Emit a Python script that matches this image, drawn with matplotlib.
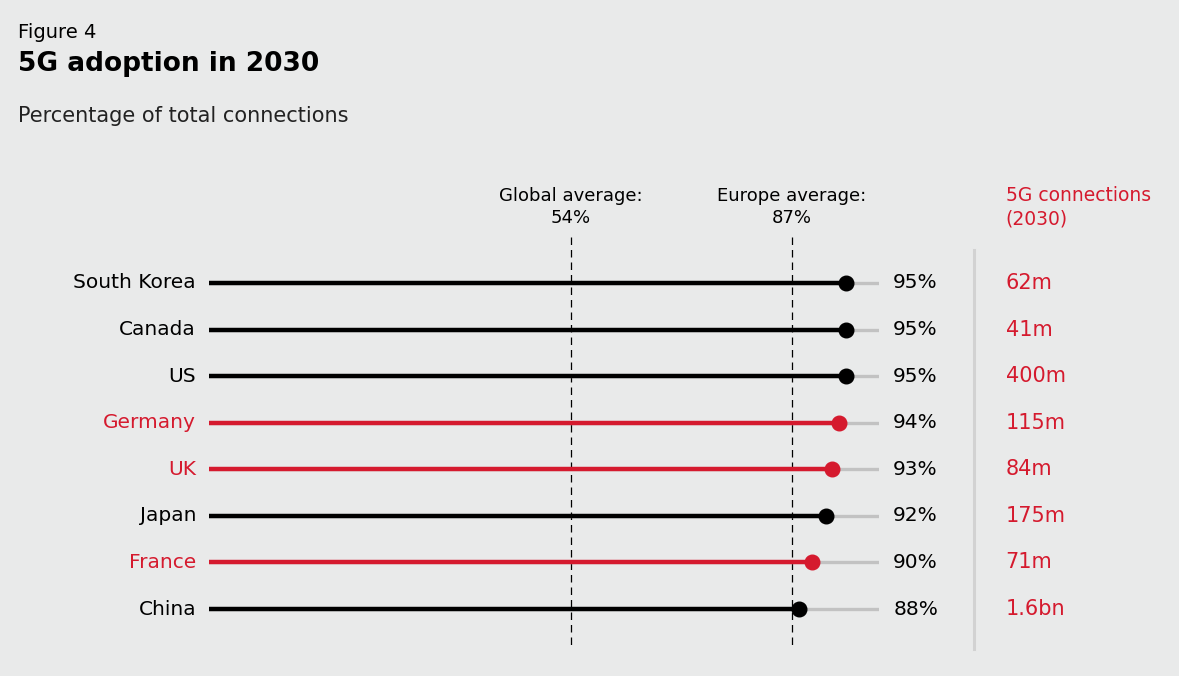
import matplotlib.pyplot as plt

countries = ['South Korea', 'Canada', 'US', 'Germany', 'UK', 'Japan', 'France', 'China']
adoption = [95, 95, 95, 94, 93, 92, 90, 88]
connections = ['62m', '41m', '400m', '115m', '84m', '175m', '71m', '1.6bn']
europe = [False, False, False, True, True, False, True, False]
global_avg = 54
europe_avg = 87

bg = '#e9eaea'
red = '#d51a2e'
grey = '#c2c2c2'

plt.rcParams['font.family'] = ['DejaVu Sans']

fig = plt.figure(figsize=(11.79, 6.76), dpi=100, facecolor=bg)
# axes placed so that 0..100 % spans the track
ax = fig.add_axes([209.4 / 1179, 1 - 650 / 676, 669.7 / 1179, 470 / 676])
ax.set_facecolor(bg)
ax.set_xlim(0, 100)
ax.set_ylim(7.88, -2.21)
ax.axis('off')

# reference lines
for val, label in [(global_avg, 'Global average:'), (europe_avg, 'Europe average:')]:
    ax.plot([val, val], [-0.99, 7.88], color='black', lw=0.9, ls=(0, (6, 4)), zorder=1)
    ax.text(val, -1.63, f'{label}\n{val}%', ha='center', va='center',
            fontsize=13, linespacing=1.33, multialignment='center')

for i, (c, v, n, eu) in enumerate(zip(countries, adoption, connections, europe)):
    col = red if eu else 'black'
    ax.plot([0, 100], [i, i], color=grey, lw=2.4, solid_capstyle='butt', zorder=2)
    ax.plot([0, v], [i, i], color=col, lw=3.2, solid_capstyle='butt', zorder=3)
    ax.plot(v, i, 'o', color=col, ms=10.5, zorder=4)
    ax.text(-2.0, i, c, ha='right', va='center', fontsize=14.5, color=col, clip_on=False)
    ax.text(102.1, i, f'{v}%', ha='left', va='center', fontsize=14.5, color='black', clip_on=False)
    ax.text(118.9, i, n, ha='left', va='center', fontsize=15, color=red, clip_on=False)

# column separator and header
ax.plot([114.2, 114.2], [-0.7, 7.85], color='#d2d2d2', lw=2.2, clip_on=False)
ax.text(118.9, -1.63, '5G connections\n(2030)', ha='left', va='center',
        fontsize=13.5, color=red, linespacing=1.33, clip_on=False)

fig.text(18 / 1179, 1 - 32 / 676, 'Figure 4', fontsize=14, va='center', ha='left')
fig.text(18 / 1179, 1 - 64 / 676, '5G adoption in 2030', fontsize=19, fontweight='bold',
         va='center', ha='left')
fig.text(18 / 1179, 1 - 116 / 676, 'Percentage of total connections', fontsize=15,
         va='center', ha='left', color='#222222')

fig.savefig('out.png', dpi=100, facecolor=bg)
